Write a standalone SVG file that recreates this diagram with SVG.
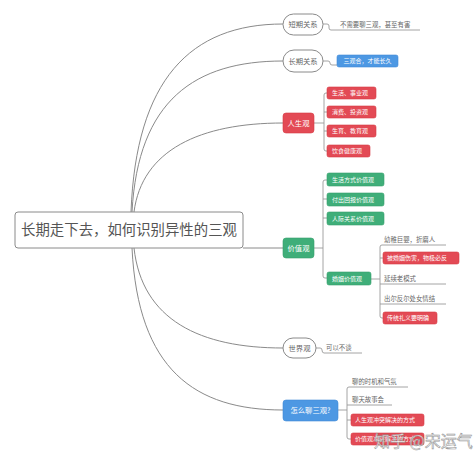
<svg xmlns="http://www.w3.org/2000/svg" width="474" height="461" viewBox="0 0 474 461">
<style>
text{font-family:"Noto Sans CJK SC","Noto Sans",sans-serif}
.ln{fill:none;stroke:#8a8a8a;stroke-width:1}
.sub{fill:none;stroke:#9a9a9a;stroke-width:0.9}
.pill{fill:#fff;stroke:#8a8a8a;stroke-width:1}
.pt{font-size:7.3px;fill:#666;text-anchor:middle}
.red{fill:#e34a55;stroke:#d63a45;stroke-width:0.6}
.grn{fill:#3fae79;stroke:#35a06c;stroke-width:0.6}
.blu{fill:#4d98e3;stroke:#3f8ad6;stroke-width:0.6}
.wt{font-size:6px;fill:#fff}
.bt{font-size:7.3px;fill:#fff;text-anchor:middle}
.gt{font-size:6.4px;fill:#666}
</style>
<rect width="474" height="461" fill="#fff"/>
<g id="connectors">
<path class="ln" d="M131,212 C136,80 190,24 283,24"/>
<path class="ln" d="M132,212 C138,100 195,61 283,61"/>
<path class="ln" d="M134,212 C142,150 200,123 283,123"/>
<path class="ln" d="M243,248 H283"/>
<path class="ln" d="M134,248 C142,320 200,348 283,348"/>
<path class="ln" d="M132,248 C138,370 195,410 283,410"/>
<path class="sub" d="M323,24 H327 Q329,24 329,26 V28 Q329,30 331,30 H420"/>
<path class="sub" d="M323,61 H328 Q330,61 330,63 Q330,65 332,65 H337"/>
<path class="sub" d="M314,123 H324 M327,93 H326 Q324,93 324,95 V149 Q324,151 326,151 H327 M324,112 H327 M324,131 H327"/>
<path class="sub" d="M314,248 H323 M327,180 H325 Q323,180 323,182 V276 Q323,278 325,278 H327 M323,199 H327 M323,218 H327"/>
<path class="sub" d="M371,279 H380 M446,245 H382 Q380,245 380,247 V316 Q380,318 382,318 H383 M380,258 H383 M380,284 H446 M380,304 H446"/>
<path class="sub" d="M316,348 H320 Q322,348 322,350 Q322,353 324,353 H362"/>
<path class="sub" d="M338,410 H347 M408,387 H349 Q347,387 347,389 V437 Q347,439 349,439 H351 M347,405 H392 M347,420 H351"/>
</g>
<g id="center">
<rect x="15" y="212" width="228" height="36" rx="3" fill="#fff" stroke="#8a8a8a" stroke-width="1"/>
<text x="129" y="235" font-size="14.4" fill="#555" text-anchor="middle">长期走下去，如何识别异性的三观</text>
</g>
<g id="short-term">
<rect class="pill" x="283" y="14" width="40" height="21" rx="10.5"/>
<text class="pt" x="303" y="27">短期关系</text>
</g>
<g id="short-term-note"><text class="gt" x="340" y="27">不需要聊三观，甚至有害</text></g>
<g id="long-term">
<rect class="pill" x="283" y="50" width="40" height="22" rx="11"/>
<text class="pt" x="303" y="63.5">长期关系</text>
</g>
<g id="long-term-note">
<rect class="blu" x="337" y="55" width="61" height="12" rx="2"/>
<text class="wt" x="367.5" y="63.2" text-anchor="middle">三观合，才能长久</text>
</g>
<g id="life-view">
<rect class="red" x="283" y="113" width="31" height="20" rx="3"/>
<text class="bt" x="298.5" y="125.5">人生观</text>
</g>
<g id="life-1"><rect class="red" x="327" y="87" width="49" height="12" rx="2"/><text class="wt" x="332" y="95.2">生活、事业观</text></g>
<g id="life-2"><rect class="red" x="327" y="106" width="49" height="12" rx="2"/><text class="wt" x="332" y="114.2">消费、投资观</text></g>
<g id="life-3"><rect class="red" x="327" y="125" width="49" height="12" rx="2"/><text class="wt" x="332" y="133.2">生育、教育观</text></g>
<g id="life-4"><rect class="red" x="327" y="145" width="43" height="12" rx="2"/><text class="wt" x="332" y="153.2">饮食健康观</text></g>
<g id="value-view">
<rect class="grn" x="283" y="238" width="31" height="20" rx="3"/>
<text class="bt" x="298.5" y="250.5">价值观</text>
</g>
<g id="value-1"><rect class="grn" x="327" y="173" width="57" height="13" rx="2"/><text class="wt" x="332" y="181.7">生活方式价值观</text></g>
<g id="value-2"><rect class="grn" x="327" y="193" width="57" height="13" rx="2"/><text class="wt" x="332" y="201.7">付出回报价值观</text></g>
<g id="value-3"><rect class="grn" x="327" y="212" width="57" height="13" rx="2"/><text class="wt" x="332" y="220.7">人际关系价值观</text></g>
<g id="value-4"><rect class="grn" x="327" y="272" width="44" height="13" rx="2"/><text class="wt" x="332" y="280.7">婚姻价值观</text></g>
<g id="marriage-1"><text class="gt" x="384" y="242">幼稚巨婴，折磨人</text></g>
<g id="marriage-2"><rect class="red" x="383" y="252" width="76" height="12" rx="2"/><text class="wt" x="387" y="260.2">被婚姻伤害，物极必反</text></g>
<g id="marriage-3"><text class="gt" x="384" y="281">延续老模式</text></g>
<g id="marriage-4"><text class="gt" x="384" y="301">出尔反尔处女情结</text></g>
<g id="marriage-5"><rect class="red" x="383" y="312" width="54" height="12" rx="2"/><text class="wt" x="387" y="320.2">传统礼义要明确</text></g>
<g id="world-view">
<rect class="pill" x="283" y="338" width="33" height="20" rx="10"/>
<text class="pt" x="299.5" y="350.5">世界观</text>
</g>
<g id="world-note"><text class="gt" x="326" y="350">可以不谈</text></g>
<g id="how-to">
<rect class="blu" x="283" y="400" width="55" height="21" rx="3"/>
<text class="bt" x="310.5" y="413">怎么聊三观?</text>
</g>
<g id="how-1"><text class="gt" x="352" y="384">聊的时机和气氛</text></g>
<g id="how-2"><text class="gt" x="352" y="402">聊天故事会</text></g>
<g id="how-3"><rect class="red" x="351" y="414" width="73" height="12" rx="2"/><text class="wt" x="355" y="422.2">人生观冲突解决的方式</text></g>
<g id="how-4"><rect class="red" x="351" y="433" width="73" height="12" rx="2"/><text class="wt" x="355" y="441.2">价值观冲突解决的方式</text></g>
<g id="watermark"><text x="374" y="447" font-size="16" fill="#fff" stroke="#8f8f8f" stroke-width="0.6" opacity="0.9">知乎 @宋运气</text></g>
</svg>
